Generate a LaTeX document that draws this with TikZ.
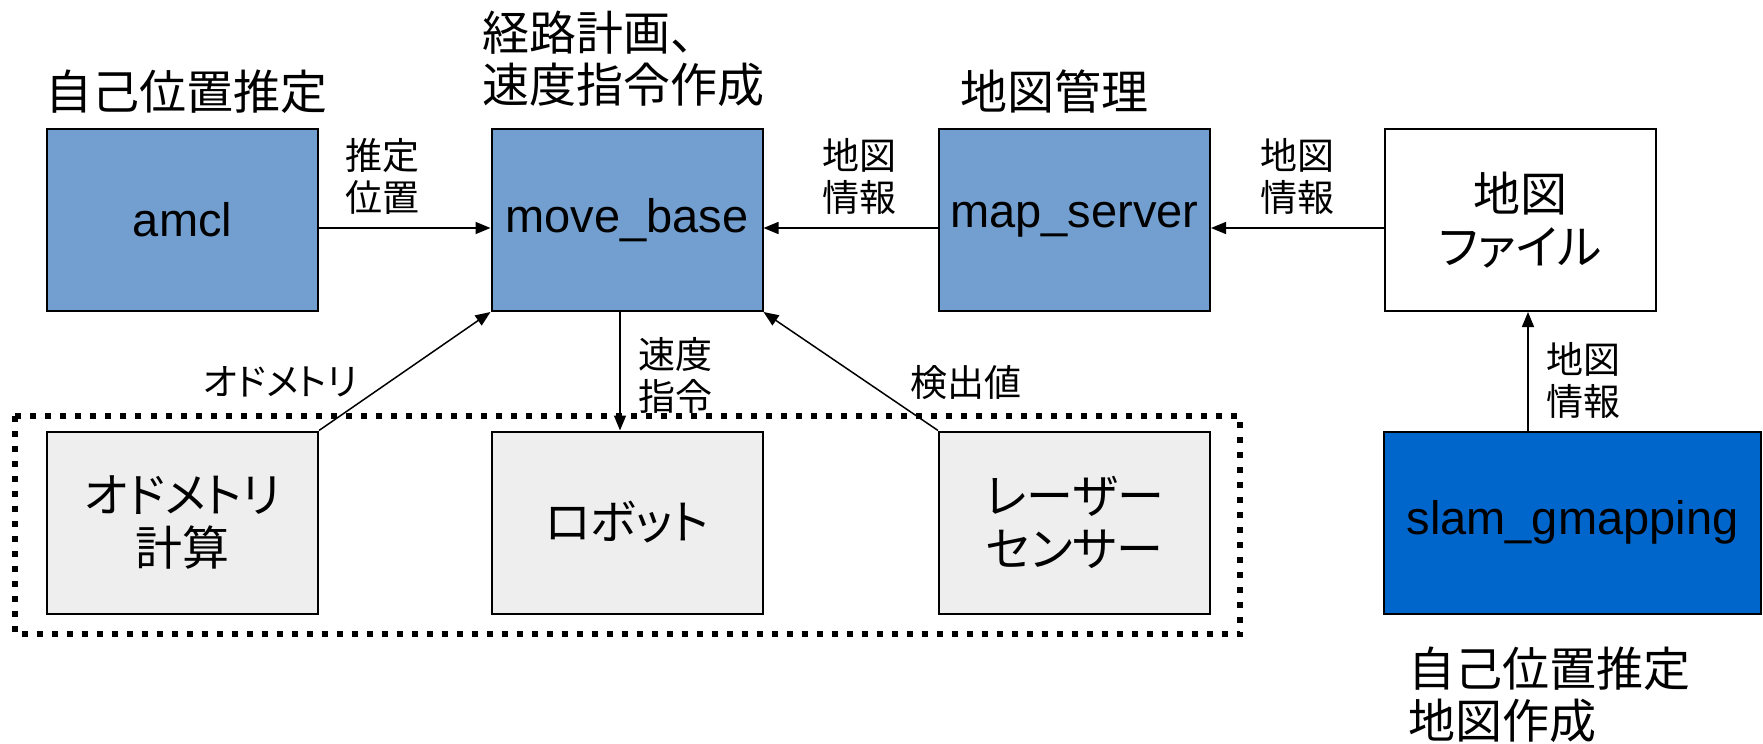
\documentclass[tikz,border=0pt]{standalone}
\usepackage{fontspec}
\setmainfont{Liberation Sans}
\newfontfamily\jp{Noto Sans CJK JP}
\newfontfamily\jpk[RawFeature=+palt]{Noto Sans CJK JP}
\usetikzlibrary{arrows.meta}
\definecolor{nodeblue}{HTML}{729FCF}
\definecolor{slamblue}{HTML}{0066CC}
\definecolor{hwgray}{HTML}{EEEEEE}
\begin{document}
\begin{tikzpicture}[x=0.5pt,y=-0.5pt,
  box/.style={draw=black, line width=1pt, minimum width=135.5pt, minimum height=91pt, inner sep=0pt, align=center, font=\fontsize{23.5}{26.5}\selectfont},
  jpbox/.style={box, font=\jpk\fontsize{23.5}{26.5}\selectfont},
  nodebox/.style={box, fill=nodeblue},
  hwbox/.style={jpbox, fill=hwgray},
  filebox/.style={jpbox, fill=white},
  slambox/.style={box, fill=slamblue, minimum width=188.5pt},
  title/.style={inner sep=0pt, align=left, font=\jp\fontsize{23.5}{26}\selectfont},
  elabel/.style={inner sep=0pt, align=left, font=\jpk\fontsize{18.5}{21}\selectfont},
  arr/.style={line width=0.75pt, -{Triangle[length=7.5pt,width=6pt]}},
  group/.style={line width=3pt, dash pattern=on 3pt off 4.5pt}
]
\useasboundingbox (0,0) rectangle (1763,744);

% group frame
\draw[group] (14.5,416) rectangle (1240,634);

% top row
\node[nodebox] (amcl) at (182.5,220) {amcl};
\node[nodebox] (move) at (627,220) {move\_base};
\node[nodebox] (map)  at (1074.5,220) {map\_server};
\node[filebox] (file) at (1520,220) {地図\\ファイル};

% bottom row
\node[hwbox] (odo)   at (182.5,522.5) {オドメトリ\\計算};
\node[hwbox] (robot) at (627,522.5) {ロボット};
\node[hwbox] (laser) at (1074.5,522.5) {レーザー\\センサー};
\node[slambox] (slam) at (1572.5,522.5) {slam\_gmapping};

% titles
\node[title, anchor=west] (t1) at (45,92) {自己位置推定};
\node[title, anchor=west] (t2) at (482,59) {経路計画、\\速度指令作成};
\node[title, anchor=west] (t3) at (960,92) {地図管理};
\node[title, anchor=west] (t4) at (1408,695) {自己位置推定\\地図作成};

% connectors
\draw[arr] ([yshift=-4pt]amcl.east) -- ([yshift=-4pt]move.west);
\draw[arr] ([yshift=-4pt]map.west) -- ([yshift=-4pt]move.east);
\draw[arr] ([yshift=-4pt]file.west) -- ([yshift=-4pt]map.east);
\draw[arr] (odo.north east) -- (move.south west);
\draw[arr] (laser.north west) -- (move.south east);
\draw[arr] ([xshift=-3.5pt]move.south) -- ([xshift=-3.5pt]robot.north);
\coordinate (fs) at ([xshift=4pt]file.south);
\draw[arr] (fs |- slam.north) -- (fs);

% connector labels
\node[elabel, anchor=west] (l1) at (345,176) {推定\\位置};
\node[elabel] (l2) at (859,176) {地図\\情報};
\node[elabel] (l3) at (1297,176) {地図\\情報};
\node[elabel] (l4) at (1583,380) {地図\\情報};
\node[elabel] (l5) at (280,382) {オドメトリ};
\node[elabel, anchor=west] (l6) at (638,375) {速度\\指令};
\node[elabel] (l7) at (966,383) {検出値};
\end{tikzpicture}
\end{document}
